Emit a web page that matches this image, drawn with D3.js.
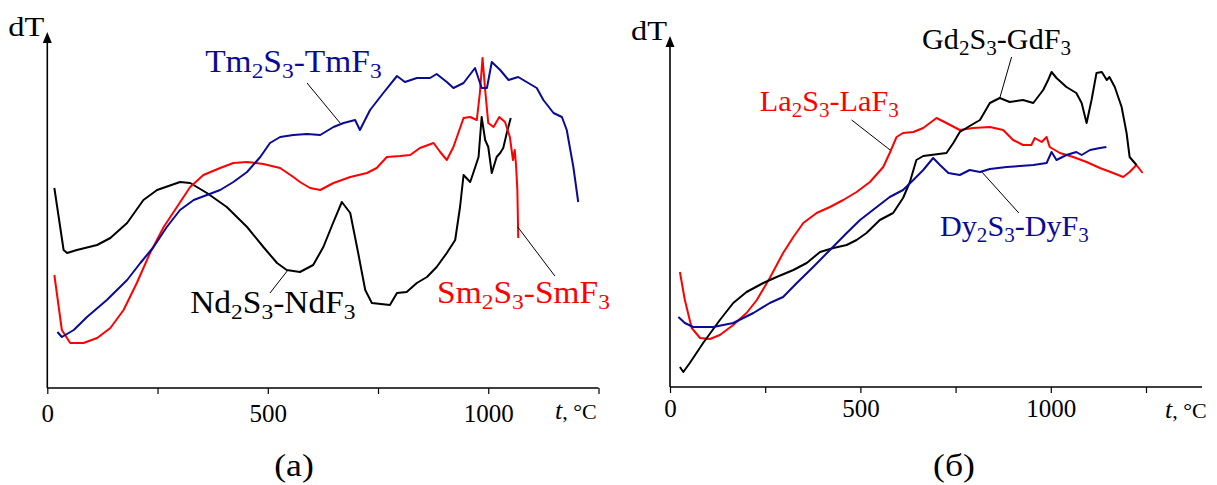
<!DOCTYPE html>
<html>
<head>
<meta charset="utf-8">
<script src="https://cdn.jsdelivr.net/npm/d3@7"></script>
<style>
  html, body { margin: 0; padding: 0; background: #fff; }
  svg text { font-family: "Liberation Serif", "Times New Roman", serif; }
</style>
</head>
<body>
<svg id="chart" width="1217" height="485"></svg>
<script>
// ---------- data (t in °C, dT in arbitrary units) ----------
const tickValues = [0, 250, 500, 750, 1000, 1250];
const tickLabels = ["0", "", "500", "", "1000", ""];

// panel (a)
const ndData = [[16,200],[37,138],[45,135],[67,138],[113,143],[143,150],[181,165],[218,188],[249,198],[301,206],[324,205],[362,195],[407,181],[453,161],[490,141],[521,125],[543,118],[573,116],[603,123],[626,141],[648,165],[668,186],[687,175],[705,135],[721,98],[736,85],[777,83],[793,95],[815,96],[838,105],[861,111],[883,121],[906,135],[925,148],[936,181],[944,213],[959,206],[966,215],[978,231],[985,271],[993,248],[1000,241],[1008,215],[1019,231],[1027,235],[1034,240],[1042,255],[1051,270]];
const smData = [[16,113],[33,58],[52,45],[82,45],[113,50],[143,60],[173,78],[203,105],[233,135],[264,161],[294,181],[324,201],[354,213],[392,220],[422,225],[453,226],[490,224],[528,220],[558,211],[573,206],[596,200],[619,198],[649,205],[687,211],[725,215],[747,220],[770,231],[800,232],[823,233],[845,240],[876,245],[891,236],[906,228],[921,241],[944,270],[959,271],[974,268],[981,295],[987,330],[993,298],[1000,265],[1012,261],[1025,271],[1038,266],[1049,251],[1056,228],[1060,238],[1063,223],[1066,198],[1068,150]];
const tmData = [[23,56],[33,51],[60,58],[90,71],[135,88],[181,108],[211,125],[241,141],[271,161],[301,178],[332,188],[362,193],[392,198],[422,206],[453,216],[483,231],[505,245],[528,251],[558,253],[589,254],[619,253],[649,261],[672,265],[698,268],[709,258],[717,265],[732,278],[762,295],[793,312],[811,306],[838,310],[868,310],[883,314],[906,306],[921,300],[944,305],[970,320],[985,300],[997,300],[1008,326],[1027,318],[1046,308],[1068,311],[1087,306],[1110,300],[1125,288],[1148,275],[1167,271],[1178,258],[1193,221],[1204,186]];

// panel (б)
const laData = [[26,115],[39,87],[57,59],[79,49],[105,48],[131,52],[166,62],[201,74],[228,87],[262,109],[297,134],[324,150],[350,164],[385,174],[420,180],[455,187],[490,195],[525,205],[560,220],[577,234],[595,250],[612,254],[639,255],[665,259],[700,269],[726,264],[761,257],[796,259],[840,260],[875,257],[901,247],[927,242],[949,242],[958,249],[976,245],[989,250],[997,240],[1024,234],[1059,230],[1094,225],[1129,219],[1164,214],[1190,210],[1207,215],[1225,222],[1241,214]];
const gdData = [[26,20],[35,15],[52,24],[87,44],[131,67],[166,84],[201,95],[245,104],[280,110],[324,117],[359,124],[394,135],[429,139],[464,142],[490,147],[516,154],[551,167],[586,174],[612,189],[630,205],[647,227],[665,231],[726,234],[744,244],[761,255],[787,261],[814,267],[840,284],[866,289],[892,285],[927,287],[954,284],[980,297],[993,307],[1002,315],[1015,309],[1041,300],[1067,294],[1081,284],[1094,264],[1107,287],[1120,314],[1134,315],[1147,307],[1154,310],[1168,300],[1186,280],[1199,254],[1207,230],[1225,222]];
const dyData = [[22,70],[39,64],[61,60],[114,60],[166,64],[219,74],[262,84],[297,90],[333,104],[376,120],[420,137],[464,154],[499,167],[543,180],[577,190],[612,197],[639,207],[665,217],[691,229],[709,222],[731,214],[761,212],[787,217],[814,215],[840,218],[884,220],[919,221],[954,222],[989,224],[1002,235],[1015,227],[1041,232],[1067,235],[1081,232],[1103,237],[1129,239],[1146,240]];

// labels: text with _ marking subscript digit
const panelA = {
  series: [
    {data: ndData, color: "#000000"},
    {data: smData, color: "#ff0000"},
    {data: tmData, color: "#0a0a96"}
  ],
  labels: [
    {text: "Tm_2S_3-TmF_3", color: "#0a0a96", at: [358, 316], lead: [[589,305],[664,265]]},
    {text: "Nd_2S_3-NdF_3", color: "#000000", at: [324, 75], lead: [[505,95],[544,117]]},
    {text: "Sm_2S_3-SmF_3", color: "#ff0000", at: [884, 85], lead: [[1067,161],[1151,112]]}
  ],
  caption: "(a)"
};
const panelB = {
  series: [
    {data: laData, color: "#ff0000"},
    {data: gdData, color: "#000000"},
    {data: dyData, color: "#0a0a96"}
  ],
  labels: [
    {text: "Gd_2S_3-GdF_3", color: "#000000", at: [662, 338], lead: [[897,330],[866,289]]},
    {text: "La_2S_3-LaF_3", color: "#ff0000", at: [236, 276], lead: [[477,267],[578,237]]},
    {text: "Dy_2S_3-DyF_3", color: "#0a0a96", at: [709, 151], lead: [[819,215],[916,174]]}
  ],
  caption: "(б)"
};

// ---------- layout ----------
const svg = d3.select("#chart");

function drawPanel(p, cfg) {
  const x = d3.scaleLinear().domain([0, 1250]).range([cfg.x0, cfg.x1250]);
  const y = d3.scaleLinear().domain([0, 355]).range([cfg.yAxis, cfg.yAxis - 355]);
  const g = svg.append("g");

  // x axis line
  g.append("line")
    .attr("x1", cfg.x0).attr("x2", cfg.xEnd)
    .attr("y1", cfg.yAxis).attr("y2", cfg.yAxis)
    .attr("stroke", "#000").attr("stroke-width", 1.6);

  const axis = d3.axisBottom(x).tickValues(tickValues)
    .tickSize(6)
    .tickFormat((d, i) => tickLabels[i]);
  const ag = g.append("g").attr("transform", `translate(0,${cfg.yAxis})`).call(axis);
  ag.select(".domain").remove();
  ag.selectAll(".tick line").attr("stroke", "#000").attr("stroke-width", 1.2);
  ag.selectAll(".tick text").attr("font-size", 25).attr("fill", "#000")
    .attr("y", cfg.tickBase).attr("dy", null)
    .filter((d, i) => tickLabels[i] === "").remove();

  // y axis with arrow
  g.append("line")
    .attr("x1", cfg.x0).attr("x2", cfg.x0)
    .attr("y1", cfg.yAxis).attr("y2", cfg.arrowTop + 9)
    .attr("stroke", "#000").attr("stroke-width", 1.6);
  g.append("path")
    .attr("d", `M${cfg.x0 - 4.5},${cfg.arrowTop + 11} L${cfg.x0 + 4.5},${cfg.arrowTop + 11} L${cfg.x0},${cfg.arrowTop} Z`)
    .attr("fill", "#000");
  g.append("text")
    .attr("transform", `translate(${cfg.x0 - 39},${cfg.arrowTop + 4}) scale(1.2,1)`)
    .attr("font-size", 27).attr("fill", "#000").text("dT");

  // axis title t, °C
  const tt = g.append("text").attr("x", cfg.tX).attr("y", cfg.tY).attr("fill", "#000");
  tt.append("tspan").attr("font-style", "italic").attr("font-size", 26).text("t");
  tt.append("tspan").attr("font-size", 22).text(", °C");

  // curves
  const line = d3.line().x(d => x(d[0])).y(d => y(d[1]));
  p.series.forEach(s => {
    g.append("path").datum(s.data)
      .attr("d", line)
      .attr("fill", "none")
      .attr("stroke", s.color)
      .attr("stroke-width", 2)
      .attr("stroke-linejoin", "round");
  });

  // labels & leader lines
  p.labels.forEach(l => {
    g.append("line")
      .attr("x1", x(l.lead[0][0])).attr("y1", y(l.lead[0][1]))
      .attr("x2", x(l.lead[1][0])).attr("y2", y(l.lead[1][1]))
      .attr("stroke", "#000").attr("stroke-width", 1);
    const t = g.append("text")
      .attr("transform", `translate(${x(l.at[0])},${y(l.at[1])}) scale(${cfg.labelStretch},1)`)
      .attr("fill", l.color).attr("font-size", cfg.labelSize);
    const parts = l.text.split(/(_\d)/).filter(s => s.length);
    let pendingDy = 0;
    parts.forEach(part => {
      if (part.startsWith("_")) {
        t.append("tspan").attr("font-size", cfg.labelSize * 0.7)
          .attr("dy", 6).text(part.slice(1));
        pendingDy = -6;
      } else {
        const ts = t.append("tspan").text(part);
        if (pendingDy) ts.attr("dy", pendingDy);
        pendingDy = 0;
      }
    });
  });

  // caption
  svg.append("text")
    .attr("transform", `translate(${cfg.capX},476) scale(1.15,1)`)
    .attr("text-anchor", "middle").attr("font-size", 31)
    .attr("fill", "#000").text(p.caption);
}

drawPanel(panelA, {x0: 47.3, x1250: 598.5, xEnd: 598.5, yAxis: 388, arrowTop: 32,
  tickBase: 34, tX: 555, tY: 419, labelSize: 31, labelStretch: 1.08, capX: 294});
drawPanel(panelB, {x0: 670, x1250: 1146, xEnd: 1202, yAxis: 387, arrowTop: 36,
  tickBase: 30, tX: 1165, tY: 418, labelSize: 29, labelStretch: 1.04, capX: 954});
</script>
</body>
</html>
